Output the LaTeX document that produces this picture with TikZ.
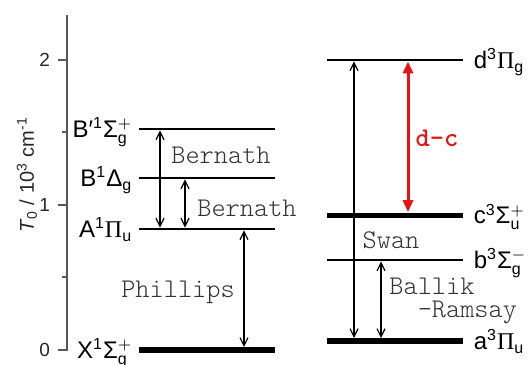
\documentclass[tikz,border=0pt]{standalone}
\usepackage{amsmath}
\usepackage{fontspec}
\setmainfont{Liberation Sans}
\newfontfamily\pifont{Liberation Serif}
\newfontfamily\courfont{Latin Modern Mono Light}
\usetikzlibrary{arrows.meta}
\definecolor{dcred}{RGB}{230,20,20}
\newcommand{\piterm}[3]{#1$^{\text{#2}}${\pifont Π}$_{\text{#3}}$}
\newcommand{\sigterm}[4]{#1$^{\text{#2}}$Σ$^{#4}_{\text{#3}}$}

\begin{document}
\begin{tikzpicture}[x=0.5pt,y=72.5pt,
    lvl/.style={fill,inner sep=0pt,minimum width=68pt,minimum height=1pt},
    lvlbold/.style={lvl,minimum height=2.6pt},
    trans/.style={{Straight Barb[length=4pt,width=4pt]}-{Straight Barb[length=4pt,width=4pt]},line width=0.6pt},
    dctrans/.style={{Triangle[length=6pt,width=5pt]}-{Triangle[length=6pt,width=5pt]},line width=1.5pt,dcred},
    sym/.style={font=\fontsize{12}{14}\selectfont,inner sep=0pt,yshift=-4.3pt},
    lab/.style={font=\courfont\fontsize{13.5}{11.5}\selectfont,text=black!80,inner sep=1pt}]
    \useasboundingbox (0,-0.1034) rectangle (530,2.4138);

    \draw[line width=1pt,black!65] (67,2.31) -- (67,0) -- (58,0);
    \foreach \t in {1,2}
        \draw[line width=1pt,black!65] (67,\t) -- (58,\t);
    \foreach \t in {0.5,1.5}
        \draw[line width=1pt,black!65] (67,\t) -- (62,\t);
    \foreach \t in {0,1,2}
        \node[anchor=east,font=\fontsize{9.5}{11}\selectfont,text=black!85] (tick\t) at (57,\t) {\t};
    \node[rotate=90,font=\fontsize{10}{12}\selectfont,text=black!85] (ylab) at (27,1.207)
        {\textit{T}$_{\text{0}}$ / 10$^{\text{3}}$ cm$^{\text{-1}}$};

    \node[lvlbold] (X) at (207,0) {};
    \node[lvl] (A) at (207,0.835) {};
    \node[lvl] (B) at (207,1.186) {};
    \node[lvl] (Bp) at (207,1.524) {};
    \node[lvlbold] (a) at (395,0.062) {};
    \node[lvl] (b) at (395,0.62) {};
    \node[lvlbold] (c) at (395,0.93) {};
    \node[lvl] (d) at (395,2.0) {};

    \node[sym,anchor=base east] (Xlab) at ([xshift=-3pt]X.west) {\sigterm{X}{1}{g}{+}};
    \node[sym,anchor=base east] (Alab) at ([xshift=-3pt]A.west) {\piterm{A}{1}{u}};
    \node[sym,anchor=base east] (Blab) at ([xshift=-3pt]B.west) {B$^{\text{1}}$Δ$_{\text{g}}$};
    \node[sym,anchor=base east] (Bplab) at ([xshift=-3pt]Bp.west) {\sigterm{B′}{1}{g}{+}};
    \node[sym,anchor=base west] (alab) at ([xshift=5pt]a.east) {\piterm{a}{3}{u}};
    \node[sym,anchor=base west] (blab) at ([xshift=5pt]b.east) {\sigterm{b}{3}{g}{-}};
    \node[sym,anchor=base west] (clab) at ([xshift=5pt]c.east) {\sigterm{c}{3}{u}{+}};
    \node[sym,anchor=base west] (dlab) at ([xshift=5pt]d.east) {\piterm{d}{3}{g}};

    \draw[trans] (Bp.south -| 160,0) -- (A.north -| 160,0);
    \draw[trans] (B.south -| 185,0) -- (A.north -| 185,0);
    \draw[trans] (A.south -| 244,0) -- (X.north -| 244,0);
    \draw[trans] (d.south -| 354,0) -- (a.north -| 354,0);
    \draw[trans] (b.south -| 381,0) -- (a.north -| 381,0);
    \draw[dctrans] (d.south -| 408,0) -- (c.north -| 408,0);

    \node[lab] (bern1) at (221,1.345) {Bernath};
    \node[lab] (bern2) at (247,0.979) {Bernath};
    \node[lab] (phil) at (178,0.40) {Phillips};
    \node[lab] (swan) at (391,0.759) {Swan};
    \node[lab,align=left,anchor=west] (ballik) at (387,0.335) {Ballik\\\phantom{Ba}-Ramsay};
    \node[lab,text=dcred,font=\courfont\bfseries\fontsize{13.5}{13}\selectfont] (dc) at (437,1.462) {d-c};
\end{tikzpicture}
\end{document}
